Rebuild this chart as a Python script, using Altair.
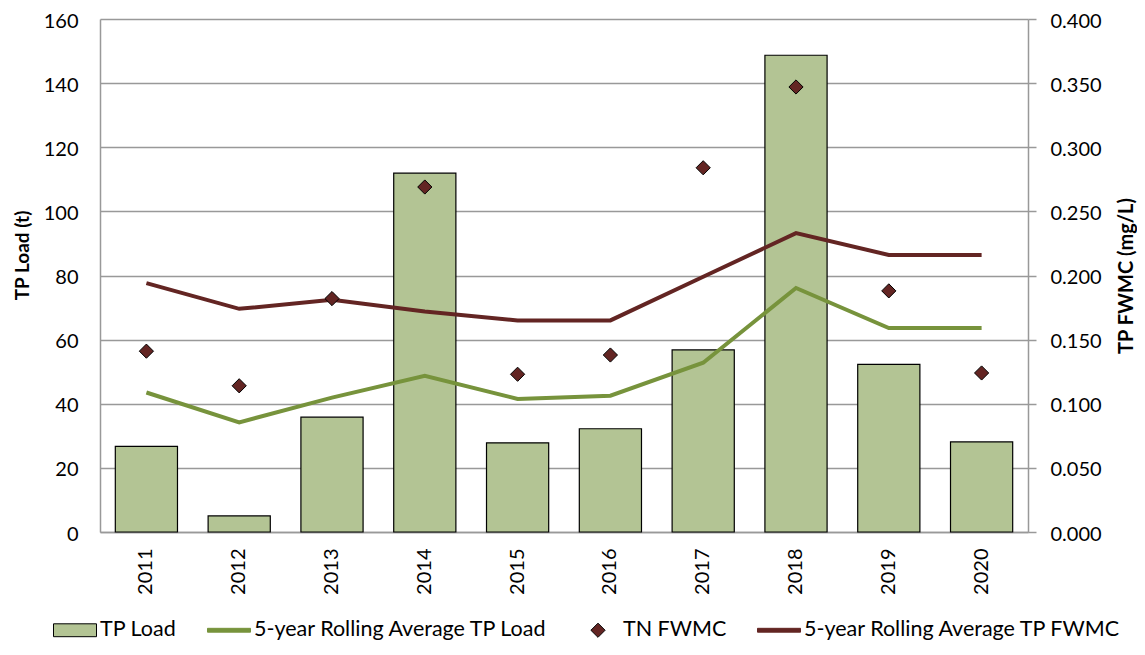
import altair as alt
import pandas as pd

years = ["2011", "2012", "2013", "2014", "2015", "2016", "2017", "2018", "2019", "2020"]
tp_load = [26.7, 5.0, 35.8, 111.9, 27.8, 32.2, 56.8, 148.7, 52.3, 28.1]
tp_load_avg = [43.5, 34.2, 41.9, 48.7, 41.5, 42.5, 52.8, 76.1, 63.6, 63.6]
tn_fwmc = [0.141, 0.114, 0.182, 0.269, 0.123, 0.138, 0.284, 0.347, 0.188, 0.124]
tp_fwmc_avg = [0.194, 0.174, 0.181, 0.172, 0.165, 0.165, 0.199, 0.233, 0.216, 0.216]

series = ["TP Load", "5-year Rolling Average TP Load", "TN FWMC", "5-year Rolling Average TP FWMC"]

BAR = "#b3c494"
GREEN = "#77933c"
RED = "#632523"
GRID = "#999999"
FONT = "Lato"

df = pd.DataFrame({
    "year": years,
    "load": tp_load,
    "load_avg": tp_load_avg,
    "fwmc": tn_fwmc,
    "fwmc_avg": tp_fwmc_avg,
})

x_enc = alt.X("year:O", scale=alt.Scale(paddingInner=0.33, paddingOuter=0.165),
              axis=alt.Axis(title=None, labelAngle=270, ticks=False, labelPadding=16,
                            domainColor=GRID, domainWidth=1.5, labelFontSize=20,
                            labelFont=FONT, labelColor="#000000"))

left_axis = alt.Axis(title="TP Load (t)", values=[0, 20, 40, 60, 80, 100, 120, 140, 160],
                     grid=True, gridColor=GRID, gridWidth=1.5, ticks=False,
                     domainColor=GRID, domainWidth=1.5, labelPadding=22, labelOffset=2,
                     labelFontSize=20, labelFont=FONT, labelColor="#000000",
                     titleFontSize=19, titleFont=FONT, titleFontWeight="bold",
                     titleColor="#000000", titlePadding=11, titleY=236)

right_axis = alt.Axis(title="TP FWMC (mg/L)", orient="right",
                      values=[0, 0.05, 0.1, 0.15, 0.2, 0.25, 0.3, 0.35, 0.4], format=".3f",
                      grid=False, ticks=True, tickSize=8, tickColor=GRID, tickWidth=1.5,
                      domainColor=GRID, domainWidth=1.5, labelPadding=14, labelOffset=2,
                      labelFontSize=20, labelFont=FONT, labelColor="#000000",
                      titleFontSize=20, titleFont=FONT, titleFontWeight="bold",
                      titleColor="#000000", titleAngle=270, titlePadding=35)

yl = alt.Scale(domain=[0, 160], nice=False)
yr = alt.Scale(domain=[0, 0.4], nice=False)

base = alt.Chart(df)

bars = base.mark_bar(fill=BAR, stroke="#000000", strokeWidth=1.2).encode(
    x=x_enc, y=alt.Y("load:Q", scale=yl, axis=left_axis))
gline = base.mark_line(color=GREEN, strokeWidth=4).encode(
    x=x_enc, y=alt.Y("load_avg:Q", scale=yl, axis=left_axis))
left = alt.layer(bars, gline)

rline = base.mark_line(color=RED, strokeWidth=4).encode(
    x=x_enc, y=alt.Y("fwmc_avg:Q", scale=yr, axis=right_axis))

shapes = ["M-1,-0.3H1V0.3H-1Z", "M-1,-0.09H1V0.09H-1Z",
          "M0,-0.33L0.33,0L0,0.33L-0.33,0Z", "M-1,-0.09H1V0.09H-1Z"]
fills = [BAR, GREEN, RED, RED]
strokes = ["#000000", GREEN, "#000000", RED]

pts = base.transform_calculate(series='"TN FWMC"').mark_point(
    filled=True, size=1849, strokeWidth=1, opacity=1).encode(
    x=x_enc,
    y=alt.Y("fwmc:Q", scale=yr, axis=right_axis),
    fill=alt.Fill("series:N", scale=alt.Scale(domain=series, range=fills), title=None),
    stroke=alt.Stroke("series:N", scale=alt.Scale(domain=series, range=strokes), title=None),
    shape=alt.Shape("series:N", scale=alt.Scale(domain=series, range=shapes), title=None),
)
right = alt.layer(rline, pts)

chart = alt.layer(left, right).resolve_scale(y="independent").properties(
    width=928, height=513,
    autosize=alt.AutoSizeParams(type="none"),
    padding={"left": 92, "top": 11, "right": 109, "bottom": 109},
).configure_view(stroke=None).configure_legend(
    orient="none", legendX=-47, legendY=589, direction="horizontal",
    labelFontSize=21.5, labelFont=FONT, labelColor="#000000", labelLimit=400,
    symbolSize=1849, symbolStrokeWidth=1, columnPadding=28, labelOffset=3,
    symbolOpacity=1,
)

chart.save("out.html", embed_options={"renderer": "svg", "actions": False})
